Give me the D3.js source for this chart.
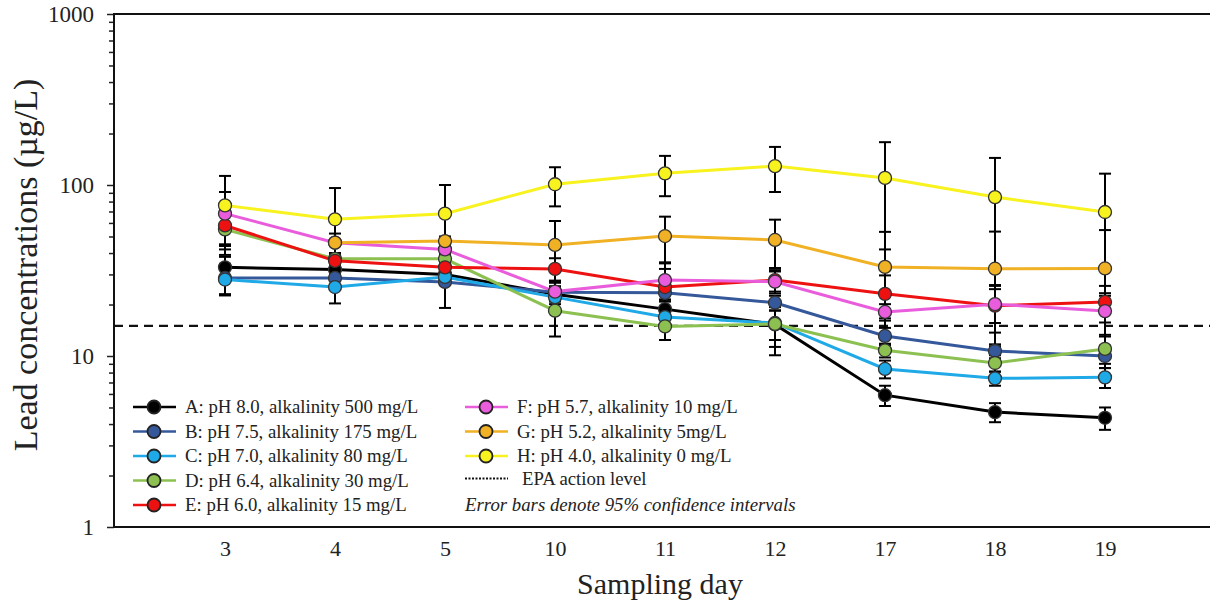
<!DOCTYPE html>
<html>
<head>
<meta charset="utf-8">
<script src="https://cdn.jsdelivr.net/npm/d3@7"></script>
<style>
  body { margin: 0; background: #fff; }
  svg text { font-family: "Liberation Serif", "DejaVu Serif", serif !important; fill: #222; }
</style>
</head>
<body>
<div id="chart"></div>
<script>
const containerWidth = 1211;
const containerHeight = 605;
const serif = "'Liberation Serif', 'DejaVu Serif', serif";

// sampling days (categorical axis)
const days = ["3", "4", "5", "10", "11", "12", "17", "18", "19"];

// series labels and colours
const seriesNames = ["A", "B", "C", "D", "E", "F", "G", "H"];
const seriesLabels = [
  "A: pH 8.0, alkalinity 500 mg/L",
  "B: pH 7.5, alkalinity 175 mg/L",
  "C: pH 7.0, alkalinity 80 mg/L",
  "D: pH 6.4, alkalinity 30 mg/L",
  "E: pH 6.0, alkalinity 15 mg/L",
  "F: pH 5.7, alkalinity 10 mg/L",
  "G: pH 5.2, alkalinity 5mg/L",
  "H: pH 4.0, alkalinity 0 mg/L"
];
const seriesColors = ["#000000", "#34589a", "#1fa9e6", "#8cc152", "#ee1111", "#e95ddc", "#f0b124", "#f8f21e"];

// lead concentrations (ug/L) per sampling day
const valuesA = [33, 32, 30, 23, 18.8, 15.3, 5.9, 4.7, 4.35];
const valuesB = [28.6, 28.6, 27.1, 23.6, 23.4, 20.5, 13.1, 10.7, 10.0];
const valuesC = [28, 25.3, 29, 22.1, 16.9, 15.6, 8.4, 7.4, 7.5];
const valuesD = [55, 37, 37, 18.4, 14.9, 15.4, 10.8, 9.1, 11.0];
const valuesE = [58, 36, 33, 32.3, 25.3, 27.8, 23.1, 19.7, 20.7];
const valuesF = [68, 46, 42, 23.8, 27.8, 27.2, 18.1, 20.1, 18.3];
const valuesG = [null, 46, 47, 44.6, 50.3, 47.7, 33.2, 32.4, 32.5];
const valuesH = [76, 63, 68, 101, 117, 129, 110, 85, 69.5];

// 95% confidence half-widths
const errA = [5, 3, 3, 2, 2.5, 4, 0.8, 0.6, 0.65];
const errB = [6, 4, 8, 2, 2, 2, 1.5, 1, 1.5];
const errC = [5, 5, 3, 2, 2, 5.5, 1, 0.7, 1];
const errD = [13, 3, 3, 5.4, 2.5, 3, 1, 1, 2];
const errE = [14, 3, 3, 5, 7, 4, 6.5, 6, 5];
const errF = [23, 6, 3, 3, 7, 4, 2, 4.5, 5];
const errG = [null, 2, 3, 17, 15, 15, 20, 21, 22];
const errH = [37, 33, 32, 26, 31, 38, 68, 59, 47];

const allValues = [valuesA, valuesB, valuesC, valuesD, valuesE, valuesF, valuesG, valuesH];
const allErrors = [errA, errB, errC, errD, errE, errF, errG, errH];

// EPA action level
const epaLevel = 15;

// y tick labels (decades)
const yMajor = [1, 10, 100, 1000];

const series = seriesNames.map((name, s) => ({
  name: name,
  label: seriesLabels[s],
  color: seriesColors[s],
  points: days.map((d, i) => ({ day: d, value: allValues[s][i], err: allErrors[s][i] }))
}));

const svgContainer = d3.select("#chart")
  .append("svg")
  .attr("width", containerWidth)
  .attr("height", containerHeight);

//Plot area
const plotLeft = 114, plotRight = 1210, plotTop = 14, plotBottom = 527;

const scaleX = d3.scalePoint()
  .domain(days)
  .range([plotLeft + 1, plotRight + 5])
  .padding(1);

const scaleY = d3.scaleLog()
  .domain([1, 1000])
  .range([plotBottom, plotTop]);

//Minor ticks on y
let yTicks = [];
yMajor.forEach(m => {
  for (let k = 1; k < 10; k++) {
    if (m * k <= 1000) yTicks.push(m * k);
  }
});

const yAxis = d3.axisLeft(scaleY)
  .tickValues(yTicks)
  .tickSize(5)
  .tickPadding(15)
  .tickFormat(d => yMajor.includes(d) ? d : "");

const gy = svgContainer.append("g")
  .attr("transform", "translate(" + plotLeft + ",0)")
  .call(yAxis)
  .attr("font-family", serif);
gy.select(".domain").remove();
gy.selectAll(".tick line")
  .attr("stroke", "#222")
  .attr("stroke-width", 1.5)
  .attr("x2", d => yMajor.includes(d) ? -7 : -5);
gy.selectAll(".tick text")
  .style("font-size", "23px")
  .style("font-family", serif)
  .attr("fill", "#222");

const xAxis = d3.axisBottom(scaleX)
  .tickSize(0)
  .tickPadding(13);

const gx = svgContainer.append("g")
  .attr("transform", "translate(0," + plotBottom + ")")
  .call(xAxis)
  .attr("font-family", serif);
gx.select(".domain").remove();
gx.selectAll(".tick text")
  .style("font-size", "22px")
  .style("font-family", serif)
  .attr("fill", "#222");

//Frame
svgContainer.append("path")
  .attr("d", "M" + plotRight + "," + plotTop + "H" + plotLeft + "V" + plotBottom + "H" + plotRight)
  .attr("fill", "none")
  .attr("stroke", "#111")
  .attr("stroke-width", 2);

//EPA line
svgContainer.append("line")
  .attr("x1", plotLeft)
  .attr("x2", plotRight)
  .attr("y1", scaleY(epaLevel))
  .attr("y2", scaleY(epaLevel))
  .attr("stroke", "#111")
  .attr("stroke-width", 2.2)
  .attr("stroke-dasharray", "9,6");

//Lines
const line = d3.line()
  .defined(d => d.value != null)
  .x(d => scaleX(d.day))
  .y(d => scaleY(d.value));

svgContainer.selectAll(".series-line")
  .data(series)
  .enter()
  .append("path")
  .attr("class", "series-line")
  .attr("fill", "none")
  .attr("stroke", d => d.color)
  .attr("stroke-width", 3)
  .attr("d", d => line(d.points));

//Error bars
const errPoints = series.flatMap(s => s.points.filter(p => p.value != null));
const capW = 6;

const errGroup = svgContainer.append("g")
  .attr("stroke", "#000")
  .attr("stroke-width", 2);

errPoints.forEach(p => {
  const x = scaleX(p.day);
  const y1 = scaleY(p.value + p.err);
  const y0 = scaleY(Math.max(p.value - p.err, 1.05));
  errGroup.append("line").attr("x1", x).attr("x2", x).attr("y1", y1).attr("y2", y0);
  errGroup.append("line").attr("x1", x - capW).attr("x2", x + capW).attr("y1", y1).attr("y2", y1);
  errGroup.append("line").attr("x1", x - capW).attr("x2", x + capW).attr("y1", y0).attr("y2", y0);
});

//Markers
series.forEach(s => {
  svgContainer.selectAll(".dot-" + s.name)
    .data(s.points.filter(p => p.value != null))
    .enter()
    .append("circle")
    .attr("class", "dot-" + s.name)
    .attr("cx", d => scaleX(d.day))
    .attr("cy", d => scaleY(d.value))
    .attr("r", 6.5)
    .attr("fill", s.color)
    .attr("stroke", "#333")
    .attr("stroke-width", 1.3);
});

//Legend
const legendRows = 5, rowH = 24.5;
const legendCols = [133, 465];
const legendTop = 407;

const legend = svgContainer.append("g");
series.forEach((s, i) => {
  const col = Math.floor(i / legendRows);
  const row = i % legendRows;
  const x0 = legendCols[col];
  const y0 = legendTop + row * rowH;
  legend.append("line")
    .attr("x1", x0).attr("x2", x0 + 43)
    .attr("y1", y0).attr("y2", y0)
    .attr("stroke", s.color)
    .attr("stroke-width", 2.5);
  legend.append("circle")
    .attr("cx", x0 + 21).attr("cy", y0).attr("r", 6.5)
    .attr("fill", s.color)
    .attr("stroke", "#222")
    .attr("stroke-width", 1.8);
  legend.append("text")
    .attr("x", x0 + 52)
    .attr("y", y0 + 6)
    .style("font-size", "18.8px")
    .style("font-family", serif)
    .text(s.label);
});

//EPA legend entry
const epaY = legendTop + 3 * rowH - 2;
legend.append("line")
  .attr("x1", legendCols[1]).attr("x2", legendCols[1] + 43)
  .attr("y1", epaY).attr("y2", epaY)
  .attr("stroke", "#111")
  .attr("stroke-width", 2)
  .attr("stroke-dasharray", "2,1.5");
legend.append("text")
  .attr("x", legendCols[1] + 57)
  .attr("y", epaY + 6)
  .style("font-size", "18.8px")
  .style("font-family", serif)
  .text("EPA action level");

legend.append("text")
  .attr("x", legendCols[1])
  .attr("y", legendTop + 4 * rowH + 6)
  .style("font-size", "18.8px")
  .style("font-style", "italic")
  .style("font-family", serif)
  .text("Error bars denote 95% confidence intervals");

//Axis titles
svgContainer.append("text")
  .attr("transform", "rotate(-90)")
  .attr("x", -265)
  .attr("y", 37)
  .attr("text-anchor", "middle")
  .style("font-size", "34px")
  .style("font-family", serif)
  .text("Lead concentrations (\u00b5g/L)");

svgContainer.append("text")
  .attr("x", 660)
  .attr("y", 594)
  .attr("text-anchor", "middle")
  .style("font-size", "30px")
  .style("font-family", serif)
  .text("Sampling day");
</script>
</body>
</html>
